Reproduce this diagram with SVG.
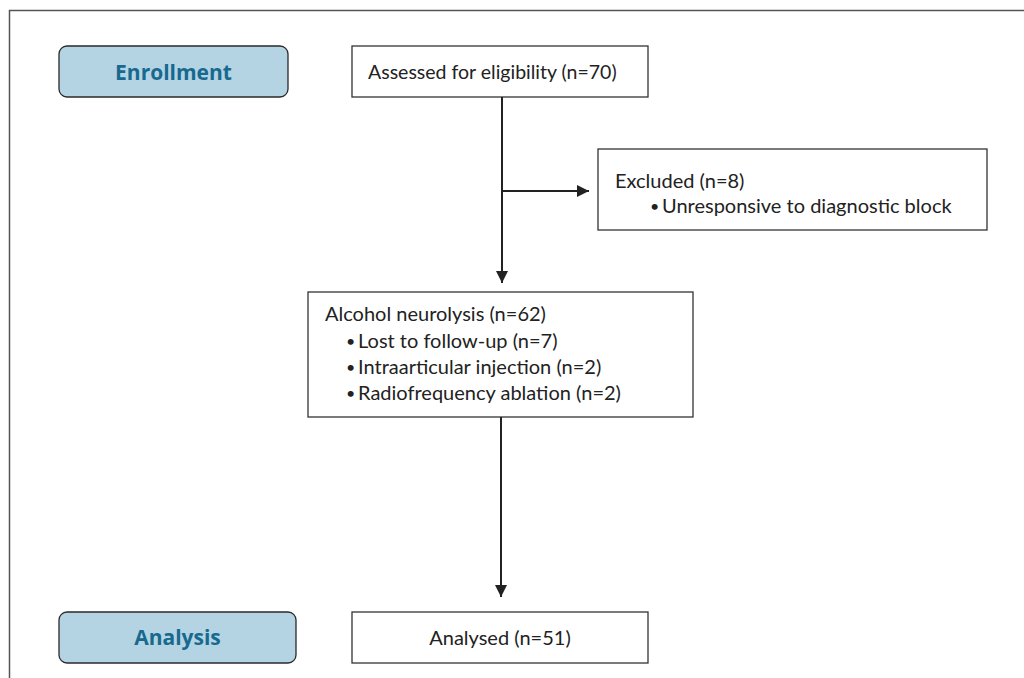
<svg xmlns="http://www.w3.org/2000/svg" width="1024" height="678" viewBox="0 0 1024 678">
<style>
.box{fill:#fff;stroke:#333;stroke-width:1.3}
.stage{fill:#b4d4e4;stroke:#2a2a2a;stroke-width:1.3}
.t{font-family:Lato,"Open Sans",sans-serif;font-size:20px;fill:#222}
.b{font-family:Lato,"Open Sans",sans-serif;font-size:16px;fill:#222}
.s{font-family:"Open Sans",Lato,sans-serif;font-size:21px;font-weight:bold;fill:#17698e}
.c{stroke:#222;stroke-width:2;fill:none}
</style>
<defs>
<marker id="ah" markerWidth="12" markerHeight="12" refX="12" refY="6" orient="auto" markerUnits="userSpaceOnUse">
<path d="M0,0 L12,6 L0,12 z" fill="#222"/>
</marker>
</defs>
<rect width="1024" height="678" fill="#fff"/>
<path d="M9.5,678 V10.5 H1024" fill="none" stroke="#555" stroke-width="1.5"/>
<g id="enrollment">
<rect class="stage" x="59" y="46" width="229" height="51" rx="8"/>
<text class="s" x="173.5" y="80" text-anchor="middle">Enrollment</text>
</g>
<g id="assessed">
<rect class="box" x="352" y="46" width="296" height="51"/>
<text class="t" x="368" y="79" style="font-size:19.5px">Assessed for eligibility (n=70)</text>
</g>
<g id="excluded">
<rect class="box" x="598" y="149" width="389" height="81"/>
<text class="t" x="615" y="188">Excluded (n=8)</text>
<text class="b" x="650" y="212">•</text>
<text class="t" x="662" y="213">Unresponsive to diagnostic block</text>
</g>
<g id="alcohol">
<rect class="box" x="308" y="292" width="385" height="125"/>
<text class="t" x="325" y="321">Alcohol neurolysis (n=62)</text>
<text class="b" x="346" y="347">•</text>
<text class="t" x="358" y="348">Lost to follow-up (n=7)</text>
<text class="b" x="346" y="373">•</text>
<text class="t" x="358" y="374">Intraarticular injection (n=2)</text>
<text class="b" x="346" y="399">•</text>
<text class="t" x="358" y="400">Radiofrequency ablation (n=2)</text>
</g>
<g id="analysis">
<rect class="stage" x="59" y="612" width="237" height="51" rx="8"/>
<text class="s" x="177.5" y="645" text-anchor="middle">Analysis</text>
</g>
<g id="analysed">
<rect class="box" x="352" y="612" width="296" height="51"/>
<text class="t" x="500" y="645" text-anchor="middle">Analysed (n=51)</text>
</g>
<g id="connectors">
<path class="c" d="M502,97 V283" marker-end="url(#ah)"/>
<path class="c" d="M502,191 H589" marker-end="url(#ah)"/>
<path class="c" d="M501,417 V597" marker-end="url(#ah)"/>
</g>
</svg>
